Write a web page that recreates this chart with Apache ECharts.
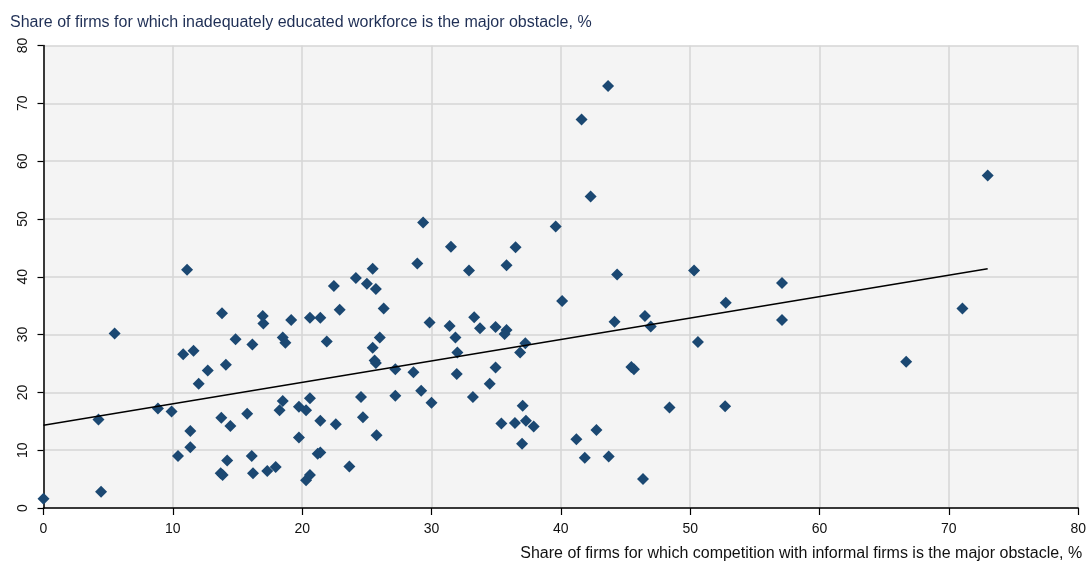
<!DOCTYPE html>
<html>
<head>
<meta charset="utf-8">
<script src="https://cdn.jsdelivr.net/npm/echarts@6/dist/echarts.min.js"></script>
<style>
  html, body { margin: 0; padding: 0; background: #ffffff; }
  #chart { width: 1089px; height: 564px; }
</style>
</head>
<body>
<div id="chart"></div>
<script>
// Share of firms (%) citing competition with informal firms as the major obstacle
const informalCompetition = [
  0, 4.25, 4.45, 5.5, 8.85, 9.9, 10.4, 10.8, 11.1, 11.35,
  11.35, 11.6, 12.0, 12.7, 13.8, 13.75, 13.7, 13.85, 14.1, 14.2,
  14.45, 14.85, 15.75, 16.1, 16.15, 16.2, 16.95, 17.0, 17.3, 17.95,
  18.25, 18.5, 18.5, 18.7, 19.15, 19.75, 19.75, 20.3, 20.6, 20.6,
  21.4, 21.4, 21.2, 21.4, 20.3, 20.6, 21.9, 22.45, 22.6, 22.9,
  23.65, 24.15, 24.55, 24.7, 25.0, 25.45, 25.7, 25.45, 25.6, 25.7,
  25.75, 26.0, 26.3, 27.2, 27.2, 28.6, 29.2, 30.0, 29.85, 29.35,
  28.9, 31.5, 32.9, 35.8, 36.5, 39.6, 31.4, 31.85, 32.0, 31.95,
  33.3, 33.75, 33.2, 34.95, 34.95, 34.5, 35.8, 35.65, 36.85, 37.25,
  35.4, 36.45, 37.05, 37.3, 37.9, 37.0, 40.1, 41.2, 44.35, 50.3,
  57.1, 52.75, 44.15, 46.5, 46.95, 57.1, 50.6, 45.45, 45.65, 48.4,
  52.7, 42.75, 41.85, 43.7, 46.35, 43.65, 41.6, 42.3, 73.0, 71.05,
  66.7
];

// Share of firms (%) citing an inadequately educated workforce as the major obstacle
const educatedWorkforce = [
  1.6, 15.3, 2.8, 30.2, 17.2, 16.7, 9.0, 26.6, 41.2, 13.3,
  10.5, 27.2, 21.5, 23.8, 33.7, 15.6, 6.0, 5.7, 24.8, 8.2,
  14.2, 29.2, 16.3, 9.0, 28.3, 6.0, 33.2, 31.9, 6.4, 7.1,
  16.9, 18.5, 29.5, 28.6, 32.5, 17.5, 12.2, 16.9, 19.0, 32.9,
  32.9, 15.1, 9.4, 9.6, 4.8, 5.7, 28.8, 38.4, 14.5, 34.3,
  7.2, 39.8, 19.2, 15.7, 38.8, 41.4, 37.9, 27.7, 25.5, 25.1,
  12.6, 29.5, 34.5, 24.0, 19.4, 23.5, 20.3, 18.2, 32.1, 49.4,
  42.3, 45.2, 41.1, 42.0, 45.1, 48.7, 31.5, 29.5, 26.9, 23.2,
  33.0, 31.1, 19.2, 31.3, 24.3, 21.5, 30.8, 30.1, 26.9, 28.5,
  14.6, 14.7, 17.7, 15.1, 14.1, 11.1, 35.8, 11.9, 40.4, 41.1,
  38.9, 35.5, 32.2, 33.2, 31.4, 32.5, 28.7, 24.4, 24.0, 17.4,
  17.6, 13.5, 8.7, 8.9, 5.0, 73.0, 67.2, 53.9, 57.5, 34.5,
  25.3
];

// Fitted linear trend, end points [x, y]
const trendX = [0, 73.0];
const trendY = [14.3, 41.4];

const xTicks = [0, 10, 20, 30, 40, 50, 60, 70, 80];
const yTicks = [0, 10, 20, 30, 40, 50, 60, 70, 80];

const titleText = 'Share of firms for which inadequately educated workforce is the major obstacle, %';
const xAxisText = 'Share of firms for which competition with informal firms is the major obstacle, %';

const points = informalCompetition.map((x, i) => [x, educatedWorkforce[i]]);
const trend = trendX.map((x, i) => [x, trendY[i]]);

const FONT = 'Liberation Sans, Arial, sans-serif';

const chart = echarts.init(document.getElementById('chart'), null, { renderer: 'canvas' });
chart.setOption({
  animation: false,
  backgroundColor: '#ffffff',
  title: {
    text: titleText,
    left: 5,
    top: 10,
    textStyle: { fontFamily: FONT, fontSize: 16, fontWeight: 'normal', color: '#1f2f55' }
  },
  grid: {
    left: 43.5,
    top: 45.5,
    width: 1039,
    height: 462.5,
    show: true,
    backgroundColor: '#f4f4f4',
    borderWidth: 0
  },
  xAxis: {
    type: 'value',
    min: xTicks[0],
    max: xTicks[xTicks.length - 1],
    interval: xTicks[1] - xTicks[0],
    name: xAxisText,
    nameLocation: 'end',
    nameGap: 4,
    nameTextStyle: {
      fontFamily: FONT, fontSize: 16, color: '#111111',
      align: 'right', verticalAlign: 'top', padding: [38, 0, 0, 0]
    },
    axisLine: { show: true, onZero: false, lineStyle: { color: '#000000', width: 1.5 } },
    axisTick: { show: true, length: 7, lineStyle: { color: '#000000', width: 1.2 } },
    axisLabel: { fontFamily: FONT, fontSize: 14, color: '#111111', margin: 14 },
    splitLine: { show: true, lineStyle: { color: '#d6d6d6', width: 1.5 } }
  },
  yAxis: {
    type: 'value',
    min: yTicks[0],
    max: yTicks[yTicks.length - 1],
    interval: yTicks[1] - yTicks[0],
    axisLine: { show: true, onZero: false, lineStyle: { color: '#000000', width: 1.5 } },
    axisTick: { show: true, length: 6, lineStyle: { color: '#000000', width: 1.2 } },
    axisLabel: { fontFamily: FONT, fontSize: 14, color: '#111111', rotate: 90, margin: 13 },
    splitLine: { show: true, lineStyle: { color: '#d6d6d6', width: 1.5 } }
  },
  series: [
    {
      type: 'scatter',
      data: points,
      symbol: 'diamond',
      symbolSize: 12,
      itemStyle: { color: '#1b4872', opacity: 1 },
      z: 3
    },
    {
      type: 'line',
      data: trend,
      showSymbol: false,
      symbol: 'none',
      lineStyle: { color: '#000000', width: 1.5 },
      z: 4
    }
  ]
});
</script>
</body>
</html>
